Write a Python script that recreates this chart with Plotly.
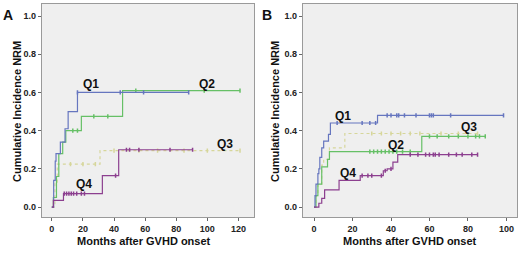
import plotly.graph_objects as go
import numpy as np

# ---------------- data ----------------
# Panel A
A_Q1_t = [0, 1.2, 2.2, 2.7, 5.5, 8.5, 10.5, 16.5, 88]
A_Q1_v = [0, 0.14, 0.24, 0.28, 0.34, 0.41, 0.50, 0.60, 0.60]
A_Q1_c = [16.5, 44, 59, 88]

A_Q2_t = [0, 1, 3, 4.5, 7, 9, 19, 45.5, 121]
A_Q2_v = [0, 0.05, 0.16, 0.28, 0.34, 0.40, 0.475, 0.61, 0.61]
A_Q2_c = [13.5, 16.5, 27, 36, 54, 98, 121]

A_Q3_t = [0, 2, 3.5, 31, 121]
A_Q3_v = [0, 0.13, 0.225, 0.295, 0.295]
A_Q3_c = [12, 20, 28, 40, 56, 68, 85, 100, 121]

A_Q4_t = [0, 1, 7.5, 32.5, 43, 90.5]
A_Q4_v = [0, 0.035, 0.07, 0.165, 0.30, 0.30]
A_Q4_c = [8, 9.5, 11, 12.5, 14, 16, 19, 21, 41, 48, 50, 56, 76, 90.5]

# Panel B
B_Q1_t = [0, 0.5, 1, 2, 2.5, 3, 4, 5, 7.5, 8.5, 33, 98.5]
B_Q1_v = [0, 0.06, 0.12, 0.175, 0.2, 0.26, 0.31, 0.345, 0.38, 0.44, 0.48, 0.48]
B_Q1_c = [12, 25, 29, 32, 38, 40, 43, 44, 47, 53, 60, 61, 62, 71, 98.5]

B_Q2_t = [0, 1, 2, 4, 7, 8, 56, 89]
B_Q2_v = [0, 0.06, 0.12, 0.21, 0.25, 0.29, 0.37, 0.37]
B_Q2_c = [29, 31, 33, 35, 37, 39, 41, 43, 46, 50, 60, 64, 70, 75, 80, 84, 86, 89]

B_Q3_t = [0, 1, 2, 4, 5, 8, 16, 85]
B_Q3_v = [0, 0.06, 0.12, 0.22, 0.25, 0.31, 0.385, 0.385]
B_Q3_c = [30, 35, 40, 45, 50, 55, 66, 75, 85]

B_Q4_t = [0, 2.5, 4, 5.5, 13, 24, 36, 38, 41, 43.5, 85]
B_Q4_v = [0, 0.02, 0.045, 0.09, 0.14, 0.165, 0.19, 0.2, 0.235, 0.275, 0.275]
B_Q4_c = [25, 28, 30, 35, 37, 40, 50, 54, 58, 60, 62, 63, 65, 70, 74, 77, 82, 85]

A_xticks = [0, 20, 40, 60, 80, 100, 120]
B_xticks = [0, 20, 40, 60, 80, 100]
y_ticks = [0.0, 0.2, 0.4, 0.6, 0.8, 1.0]

COLORS = {"Q1": "#6676bf", "Q2": "#66c066", "Q3": "#d6d69a", "Q4": "#8c3f8f"}

# ---------------- figure ----------------
W, H = 520, 253
fig = go.Figure()


def step_val(t, v, x):
    idx = np.searchsorted(np.array(t), x, side="right") - 1
    return v[max(idx, 0)]


def add_curve(t, v, c, name, xa, ya):
    col = COLORS[name]
    dash = "dot" if name == "Q3" else "solid"
    fig.add_trace(go.Scatter(x=t, y=v, mode="lines", line=dict(color=col, width=1.2, shape="hv", dash=dash),
                             xaxis=xa, yaxis=ya, showlegend=False, hoverinfo="skip"))
    fig.add_trace(go.Scatter(x=c, y=[step_val(t, v, xx) for xx in c], mode="markers",
                             marker=dict(symbol="line-ns-open", size=3, color=col, line=dict(color=col, width=1.5)),
                             xaxis=xa, yaxis=ya, showlegend=False, hoverinfo="skip"))


add_curve(A_Q3_t, A_Q3_v, A_Q3_c, "Q3", "x", "y")
add_curve(A_Q2_t, A_Q2_v, A_Q2_c, "Q2", "x", "y")
add_curve(A_Q1_t, A_Q1_v, A_Q1_c, "Q1", "x", "y")
add_curve(A_Q4_t, A_Q4_v, A_Q4_c, "Q4", "x", "y")

add_curve(B_Q3_t, B_Q3_v, B_Q3_c, "Q3", "x2", "y2")
add_curve(B_Q2_t, B_Q2_v, B_Q2_c, "Q2", "x2", "y2")
add_curve(B_Q1_t, B_Q1_v, B_Q1_c, "Q1", "x2", "y2")
add_curve(B_Q4_t, B_Q4_v, B_Q4_c, "Q4", "x2", "y2")

tickfont = dict(family="Liberation Sans, Arial", size=9, color="#222", weight="bold")
axis_common = dict(showline=True, mirror=True, linecolor="#9a9a9a", linewidth=1, showgrid=False,
                   zeroline=False, ticks="outside", ticklen=3, tickcolor="#666", tickfont=tickfont)

yd = [1 - 217 / H, 1 - 4 / H]
fig.update_layout(
    width=W, height=H, margin=dict(l=0, r=0, t=0, b=0),
    paper_bgcolor="white", plot_bgcolor="#efefef",
    xaxis=dict(domain=[41.7 / W, 254 / W], range=[-6.5, 130], tickvals=A_xticks, anchor="y", **axis_common),
    yaxis=dict(domain=yd, range=[-0.052, 1.063], tickvals=y_ticks, tickformat=".1f", anchor="x", **axis_common),
    xaxis2=dict(domain=[302.7 / W, 517 / W], range=[-5.9, 105.5], tickvals=B_xticks, anchor="y2", **axis_common),
    yaxis2=dict(domain=yd, range=[-0.052, 1.063], tickvals=y_ticks, tickformat=".1f", anchor="x2", **axis_common),
)

lab_font = dict(family="Liberation Sans, Arial", size=12, color="#111", weight="bold")
ann = []
for (name, x, y, xr, yr) in [("Q1", 25.5, 0.645, "x", "y"), ("Q2", 100, 0.645, "x", "y"),
                             ("Q3", 111.5, 0.33, "x", "y"), ("Q4", 20.5, 0.12, "x", "y"),
                             ("Q1", 15.2, 0.478, "x2", "y2"), ("Q3", 80.7, 0.42, "x2", "y2"),
                             ("Q2", 42.4, 0.325, "x2", "y2"), ("Q4", 17.8, 0.18, "x2", "y2")]:
    ann.append(dict(text=name, x=x, y=y, xref=xr, yref=yr, showarrow=False, font=lab_font))

title_font = dict(family="Liberation Sans, Arial", size=11, color="#111", weight="bold")
for (cx, cy) in [(144, 240.5), (410, 240.5)]:
    ann.append(dict(text="Months after GVHD onset", x=cx / W, y=1 - cy / H, xref="paper", yref="paper",
                    showarrow=False, font=title_font, xanchor="center", yanchor="middle"))
for (cx, cy) in [(17, 112), (275, 112)]:
    ann.append(dict(text="Cumulative Incidence NRM", x=cx / W, y=1 - cy / H, xref="paper", yref="paper",
                    showarrow=False, font=title_font, textangle=-90, xanchor="center", yanchor="middle"))
letter_font = dict(family="Liberation Sans, Arial", size=14, color="#111", weight="bold")
for (txt, cx, cy) in [("A", 7.5, 15), ("B", 266.5, 15)]:
    ann.append(dict(text=txt, x=cx / W, y=1 - cy / H, xref="paper", yref="paper",
                    showarrow=False, font=letter_font, xanchor="center", yanchor="middle"))
fig.update_layout(annotations=ann)

fig.write_html("out.html", config={"displayModeBar": False},
               post_script="document.body.style.margin='0';document.body.style.overflow='hidden';")
